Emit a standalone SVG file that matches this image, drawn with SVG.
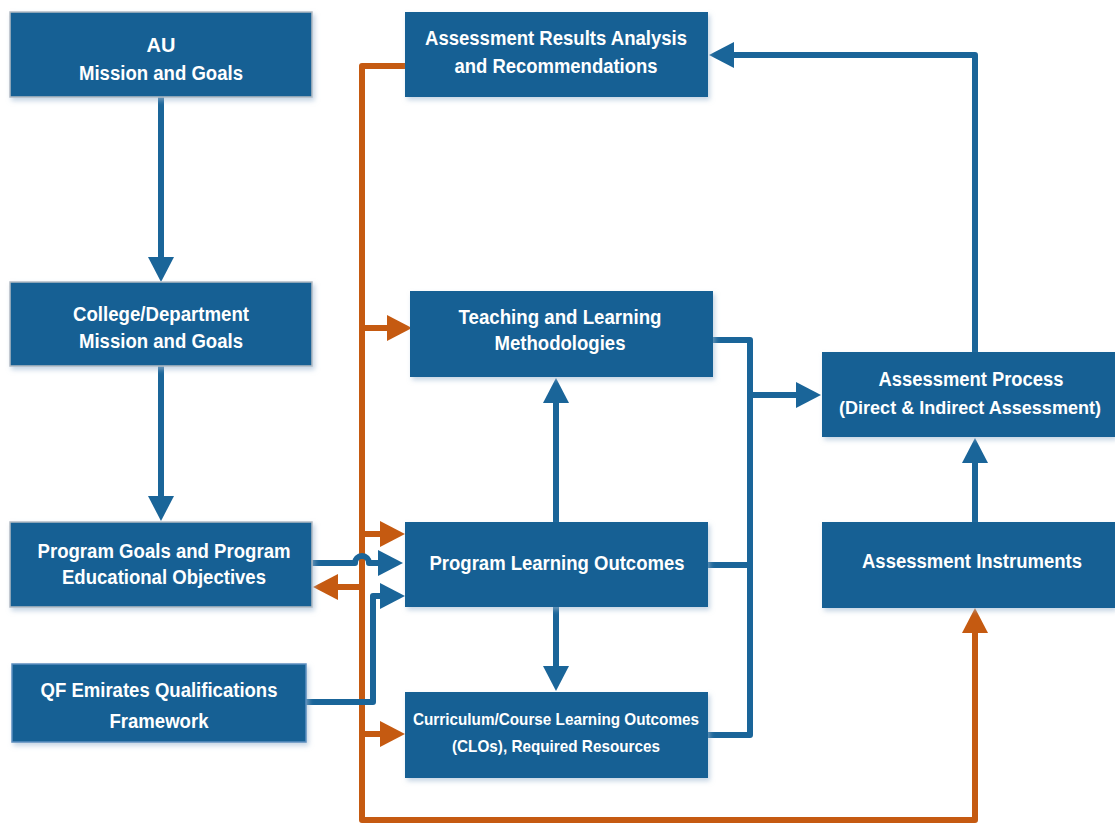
<svg xmlns="http://www.w3.org/2000/svg" width="1115" height="823" viewBox="0 0 1115 823">
<style>
.box{fill:#166194;filter:url(#sh);}
.bd{stroke:#b4bcc4;stroke-width:1.5;}
.bq{stroke:#5b8fc0;stroke-width:1.5;}
.t{fill:#fff;font-family:"Liberation Sans",Arial,sans-serif;font-weight:bold;font-size:20px;text-anchor:middle;}
.s{font-size:17px;}
.b{fill:none;stroke:#1a6599;stroke-width:6;stroke-linejoin:round;}
.o{fill:none;stroke:#c55a11;stroke-width:6;stroke-linejoin:round;}
</style>
<defs>
<filter id="sh" x="-5%" y="-10%" width="112%" height="130%">
<feDropShadow dx="2" dy="3" stdDeviation="2.5" flood-color="#9db7d0" flood-opacity="0.6"/>
</filter>
<marker id="ab" viewBox="0 0 25 26" refX="1" refY="13" markerWidth="25" markerHeight="26" markerUnits="userSpaceOnUse" orient="auto"><path d="M0,0 L25,13 L0,26 Z" fill="#1a6599"/></marker>
<marker id="ao" viewBox="0 0 25 26" refX="1" refY="13" markerWidth="25" markerHeight="26" markerUnits="userSpaceOnUse" orient="auto"><path d="M0,0 L25,13 L0,26 Z" fill="#c55a11"/></marker>
</defs>
<rect width="1115" height="823" fill="#fff"/>
<g id="connectors">
<path class="o" d="M405,66 L362,66 L362,820 L975,820 L975,632" marker-end="url(#ao)"/>
<path class="o" d="M362,328 L388,328" marker-end="url(#ao)"/>
<path class="o" d="M362,534 L381,534" marker-end="url(#ao)"/>
<path class="o" d="M362,587 L337,587" marker-end="url(#ao)"/>
<path class="o" d="M362,734 L381,734" marker-end="url(#ao)"/>
<path class="b" d="M161,97 L161,258" marker-end="url(#ab)"/>
<path class="b" d="M161,366 L161,497" marker-end="url(#ab)"/>
<path class="b" d="M312,563 L355,563 A7,7 0 0 1 369,563 L379,563" marker-end="url(#ab)"/>
<path class="b" d="M306,702 L373,702 L373,596 L381,596" marker-end="url(#ab)"/>
<path class="b" d="M556,522 L556,402" marker-end="url(#ab)"/>
<path class="b" d="M556,607 L556,667" marker-end="url(#ab)"/>
<path class="b" d="M713,340 L750,340 L750,735 L708,735"/>
<path class="b" d="M708,565 L750,565"/>
<path class="b" d="M750,395 L797,395" marker-end="url(#ab)"/>
<path class="b" d="M975,522 L975,462" marker-end="url(#ab)"/>
<path class="b" d="M975,352 L975,55 L733,55" marker-end="url(#ab)"/>
</g>
<g id="au"><rect class="box bd" x="10" y="12" width="302" height="85"/>
<text class="t" x="161" y="52">AU</text>
<text class="t" x="161" y="80" textLength="164" lengthAdjust="spacingAndGlyphs">Mission and Goals</text></g>
<g id="college"><rect class="box bd" x="10" y="282" width="302" height="84"/>
<text class="t" x="161" y="321" textLength="176" lengthAdjust="spacingAndGlyphs">College/Department</text>
<text class="t" x="161" y="348" textLength="164" lengthAdjust="spacingAndGlyphs">Mission and Goals</text></g>
<g id="programgoals"><rect class="box bd" x="10" y="522" width="302" height="85"/>
<text class="t" x="164" y="558" textLength="253" lengthAdjust="spacingAndGlyphs">Program Goals and Program</text>
<text class="t" x="164" y="584" textLength="204" lengthAdjust="spacingAndGlyphs">Educational Objectives</text></g>
<g id="qf"><rect class="box bq" x="12" y="664" width="294" height="78"/>
<text class="t" x="159" y="697" textLength="237" lengthAdjust="spacingAndGlyphs">QF Emirates Qualifications</text>
<text class="t" x="159" y="728" textLength="99" lengthAdjust="spacingAndGlyphs">Framework</text></g>
<g id="results"><rect class="box" x="405" y="12" width="303" height="85"/>
<text class="t" x="556" y="45" textLength="262" lengthAdjust="spacingAndGlyphs">Assessment Results Analysis</text>
<text class="t" x="556" y="73" textLength="203" lengthAdjust="spacingAndGlyphs">and Recommendations</text></g>
<g id="teaching"><rect class="box" x="410" y="291" width="303" height="86"/>
<text class="t" x="560" y="324" textLength="203" lengthAdjust="spacingAndGlyphs">Teaching and Learning</text>
<text class="t" x="560" y="350" textLength="131" lengthAdjust="spacingAndGlyphs">Methodologies</text></g>
<g id="plo"><rect class="box" x="405" y="522" width="303" height="85"/>
<text class="t" x="557" y="570" textLength="255" lengthAdjust="spacingAndGlyphs">Program Learning Outcomes</text></g>
<g id="curriculum"><rect class="box" x="405" y="692" width="303" height="86"/>
<text class="t s" x="556" y="725" textLength="286" lengthAdjust="spacingAndGlyphs">Curriculum/Course Learning Outcomes</text>
<text class="t s" x="556" y="752" textLength="208" lengthAdjust="spacingAndGlyphs">(CLOs), Required Resources</text></g>
<g id="process"><rect class="box" x="822" y="352" width="293" height="85"/>
<text class="t" x="971" y="386" textLength="185" lengthAdjust="spacingAndGlyphs">Assessment Process</text>
<text class="t" x="970" y="414" font-size="18.5" style="font-size:18.5px" textLength="262" lengthAdjust="spacingAndGlyphs">(Direct &amp; Indirect Assessment)</text></g>
<g id="instruments"><rect class="box" x="822" y="522" width="293" height="86"/>
<text class="t" x="972" y="568" textLength="220" lengthAdjust="spacingAndGlyphs">Assessment Instruments</text></g>
</svg>
